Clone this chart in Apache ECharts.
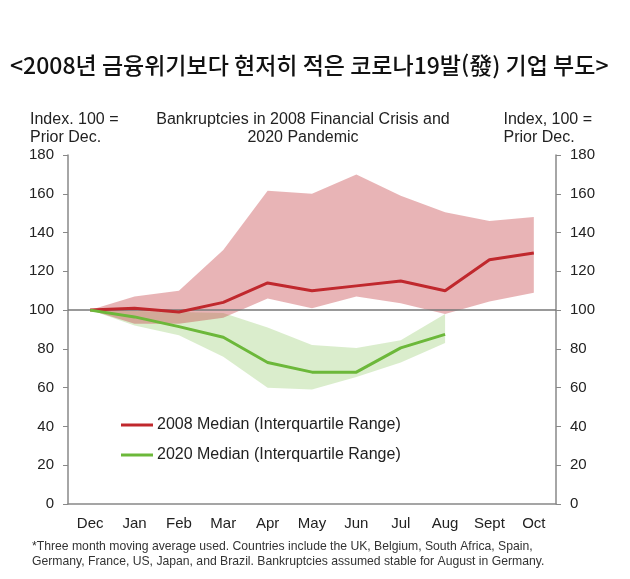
<!DOCTYPE html>
<html lang="ko">
<head>
	<meta charset="UTF-8">
	<title>Bankruptcies</title>
	<script src="https://cdn.jsdelivr.net/npm/echarts@6/dist/echarts.min.js"></script>
	<style>
		body { margin: 0; background: #fff; }
	</style>
</head>
<body>
	<div id="chart" style="width: 630px; height: 579px;"></div>
	<script type="text/javascript">
		// months on the x axis
		const months = ['Dec', 'Jan', 'Feb', 'Mar', 'Apr', 'May', 'Jun', 'Jul', 'Aug', 'Sept', 'Oct'];

		// 2008 crisis: median and interquartile range
		const median2008 = [100, 101, 99, 104, 114, 110, 112.5, 115, 110, 126, 129.5];
		const low2008 = [100, 93, 93, 96, 106, 101, 107, 103.5, 98, 104.5, 109];
		const high2008 = [100, 107, 110, 131, 161.5, 160, 170, 159, 150.5, 146, 148];

		// 2020 pandemic: median and interquartile range (no data after Aug)
		const median2020 = [100, 96.5, 91.5, 86, 73, 68, 68, 80.5, 87.5, null, null];
		const low2020 = [100, 92, 87, 76, 60, 59, 65.5, 73, 83, null, null];
		const high2020 = [100, 99.5, 99, 98.5, 91, 82, 80.5, 84.5, 98, null, null];

		const diff = (hi, lo) => hi.map((v, i) => v == null ? null : +(v - lo[i]).toFixed(2));

		const font = '"Liberation Sans", Arial, sans-serif';
		const chart = echarts.init(document.getElementById('chart'));

		chart.setOption({
			animation: false,
			textStyle: { fontFamily: font },
			title: [
				{
					text: '<2008년 금융위기보다 현저히 적은 코로나19발(發) 기업 부도>',
					left: 5, top: 49,
					textStyle: { fontFamily: '"Noto Sans CJK KR", sans-serif', fontSize: 23, fontWeight: 500, color: '#111' }
				},
				{
					text: 'Bankruptcies in 2008 Financial Crisis and\n2020 Pandemic',
					left: 298, top: 106, textAlign: 'center',
					textStyle: { fontSize: 16, fontWeight: 'normal', color: '#222', lineHeight: 18, align: 'center' }
				},
				{
					text: 'Index. 100 =\nPrior Dec.',
					left: 25, top: 106,
					textStyle: { fontSize: 16, fontWeight: 'normal', color: '#222', lineHeight: 18 }
				},
				{
					text: 'Index, 100 =\nPrior Dec.',
					right: 33, top: 106,
					textStyle: { fontSize: 16, fontWeight: 'normal', color: '#222', lineHeight: 18, align: 'right' }
				},
				{
					text: '*Three month moving average used. Countries include the UK, Belgium, South Africa, Spain,\nGermany, France, US, Japan, and Brazil. Bankruptcies assumed stable for August in Germany.',
					left: 27, top: 534,
					textStyle: { fontSize: 12.2, fontWeight: 'normal', color: '#333', lineHeight: 15 }
				}
			],
			legend: {
				orient: 'vertical',
				left: 116, top: 412,
				icon: 'rect',
				itemWidth: 32, itemHeight: 3, itemGap: 14,
				data: ['2008 Median (Interquartile Range)', '2020 Median (Interquartile Range)'],
				textStyle: { fontSize: 16, color: '#222', padding: [0, 0, 0, -1] }
			},
			grid: { left: 68, right: 74, top: 155, bottom: 75 },
			xAxis: {
				type: 'category',
				data: months,
				boundaryGap: true,
				axisLine: { lineStyle: { color: '#888', width: 1.5 } },
				axisTick: { interval: 0, length: 5, lineStyle: { color: '#888' } },
				axisLabel: { interval: 0, fontSize: 15, color: '#222', margin: 12 }
			},
			yAxis: [
				{
					type: 'value', min: 0, max: 180, interval: 20, position: 'left',
					axisLine: { show: true, lineStyle: { color: '#888', width: 1.5 } },
					axisTick: { show: true, length: 5, lineStyle: { color: '#888' } },
					axisLabel: { fontSize: 15, color: '#222', margin: 14 },
					splitLine: { show: false }
				},
				{
					type: 'value', min: 0, max: 180, interval: 20, position: 'right',
					axisLine: { show: true, lineStyle: { color: '#888', width: 1.5 } },
					axisTick: { show: true, length: 5, lineStyle: { color: '#888' } },
					axisLabel: { fontSize: 15, color: '#222', margin: 14 },
					splitLine: { show: false }
				}
			],
			series: [
				// 2020 band
				{
					name: 'low2020', type: 'line', stack: 'g', data: low2020,
					symbol: 'none', lineStyle: { opacity: 0 }, silent: true
				},
				{
					name: 'band2020', type: 'line', stack: 'g', data: diff(high2020, low2020),
					symbol: 'none', lineStyle: { opacity: 0 }, silent: true,
					areaStyle: { color: 'rgba(100,180,40,0.24)', opacity: 1 }
				},
				// 2008 band
				{
					name: 'low2008', type: 'line', stack: 'r', data: low2008,
					symbol: 'none', lineStyle: { opacity: 0 }, silent: true
				},
				{
					name: 'band2008', type: 'line', stack: 'r', data: diff(high2008, low2008),
					symbol: 'none', lineStyle: { opacity: 0 }, silent: true,
					areaStyle: { color: 'rgba(198,68,72,0.4)', opacity: 1 },
					markLine: {
						silent: true, symbol: 'none', label: { show: false },
						lineStyle: { color: '#777', type: 'solid', width: 1.5 },
						data: [{ yAxis: 100 }]
					}
				},
				{
					name: '2008 Median (Interquartile Range)', type: 'line', data: median2008,
					symbol: 'none', z: 5,
					lineStyle: { color: '#c0282d', width: 3 },
					itemStyle: { color: '#c0282d' }
				},
				{
					name: '2020 Median (Interquartile Range)', type: 'line', data: median2020,
					symbol: 'none', z: 5,
					lineStyle: { color: '#6cb83a', width: 3 },
					itemStyle: { color: '#6cb83a' }
				}
			]
		});
	</script>
</body>
</html>
